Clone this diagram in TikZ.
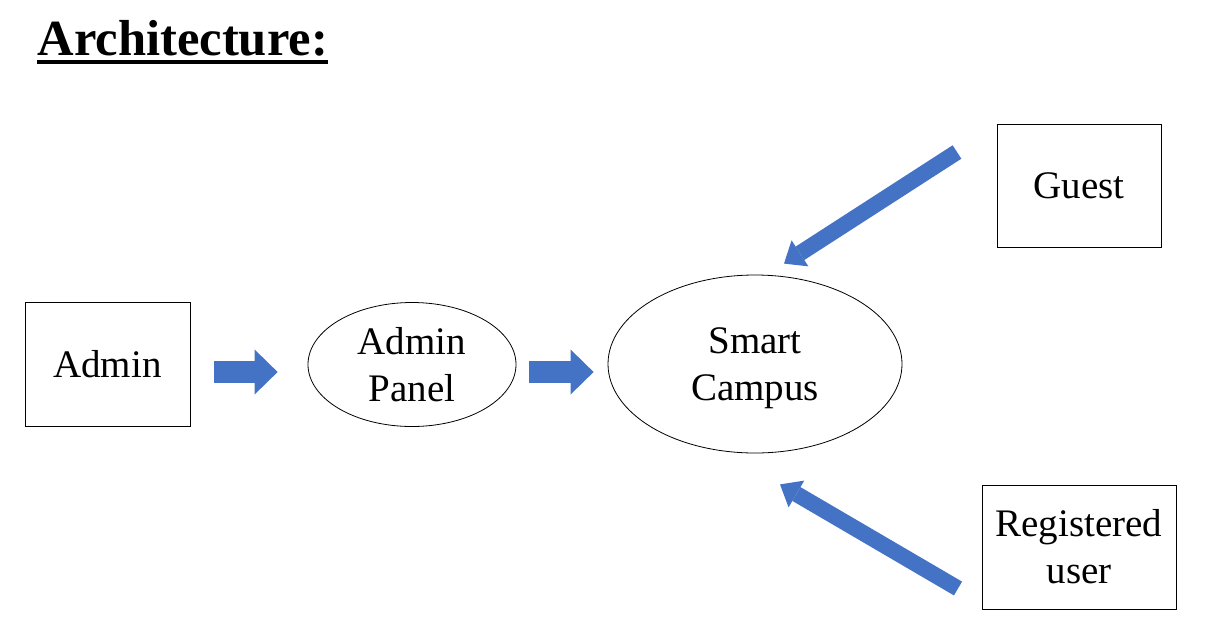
\documentclass[tikz,border=0pt]{standalone}
\usepackage{fontspec}
\setmainfont{Liberation Serif}
\usepackage{tikz}
\usepackage{xcolor}
\usetikzlibrary{shapes.geometric, arrows.meta, positioning}
\definecolor{arrowblue}{HTML}{4472C4}

\begin{document}
\begin{tikzpicture}[x=1pt, y=-1pt, line width=1pt,
        box/.style={rectangle, draw, inner sep=0pt, align=center, font=\fontsize{39}{47}\selectfont},
        oval/.style={ellipse, draw, line width=0.8pt, inner sep=0pt, align=center, font=\fontsize{39}{47}\selectfont},
        flatarrow/.style={draw=arrowblue, line width=22pt, -{Triangle[length=23pt, width=45pt, line width=0pt]}},
        slantarrow/.style={draw=arrowblue, line width=16pt, -{Triangle[length=19pt, width=31pt, line width=0pt]}}]
        \useasboundingbox (0, 0) rectangle (1216, 630);
        \node [anchor=base west, inner sep=0pt, font=\fontsize{50.6}{60}\selectfont\bfseries] (title) at (37, 55) {Architecture:};
        \draw [line width=4pt] ([yshift=-7pt]title.base west) -- ([yshift=-7pt]title.base east);
        \node [box, minimum width=165pt, minimum height=124pt] (admin) at (107.5, 364) {Admin};
        \node [oval, minimum width=208pt, minimum height=124pt] (panel) at (412, 364.5) {Admin\\Panel};
        \node [oval, minimum width=294pt, minimum height=178pt, text depth=0pt] (smart) at (755, 364) {Smart\\Campus};
        \node [box, minimum width=164pt, minimum height=123pt] (guest) at (1079, 185.5) {Guest};
        \node [box, minimum width=194pt, minimum height=124pt] (registered) at (1079, 547) {Registered\\user};
        \draw [flatarrow] ([shift={(23pt, -8pt)}]admin.east) -- ([shift={(-30pt, -7.5pt)}]panel.west);
        \draw [flatarrow] ([shift={(13pt, -7.5pt)}]panel.east) -- ([shift={(-14pt, -8pt)}]smart.west);
        \draw [slantarrow] ([shift={(-39.5pt, 33.5pt)}]guest.west) -- ([shift={(29pt, 11pt)}]smart.north);
        \draw [slantarrow] ([shift={(-23.5pt, -41.5pt)}]registered.west) -- ([shift={(25pt, -31pt)}]smart.south);
    \end{tikzpicture}
\end{document}
